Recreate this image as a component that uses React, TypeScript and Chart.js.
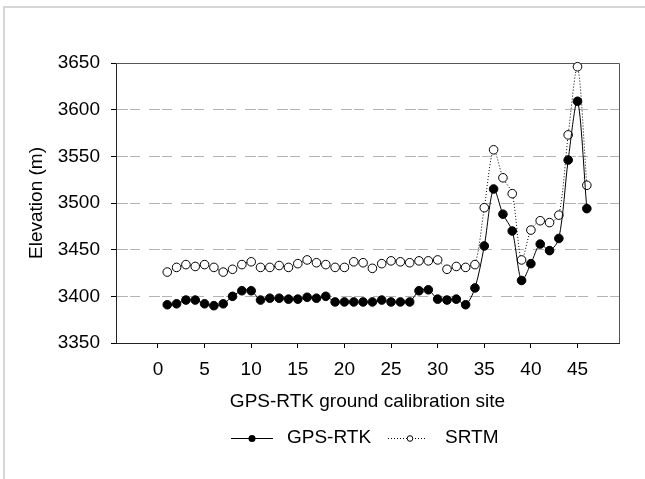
import React, { useEffect, useRef } from "react";
import { Chart, registerables } from "chart.js";

Chart.register(...registerables);

// Calibration site numbers along the transect
const sites = [
  1, 2, 3, 4, 5, 6, 7, 8, 9, 10, 11, 12, 13, 14, 15, 16, 17, 18, 19, 20, 21, 22, 23,
  24, 25, 26, 27, 28, 29, 30, 31, 32, 33, 34, 35, 36, 37, 38, 39, 40, 41, 42, 43, 44,
  45, 46,
];

// Elevation measured by GPS-RTK (m)
const gpsRtk = [
  3391, 3392, 3396, 3396, 3392, 3390, 3392, 3400, 3406, 3406, 3396, 3398, 3398, 3397,
  3397, 3399, 3398, 3400, 3394, 3394, 3394, 3394, 3394, 3396, 3394, 3394, 3394, 3406,
  3407, 3397, 3396, 3397, 3391, 3409, 3454, 3515, 3488, 3470, 3417, 3435, 3456, 3449,
  3462, 3546, 3609, 3494,
];

// Elevation from the SRTM DEM at the same sites (m)
const srtm = [
  3426, 3431, 3434, 3432, 3434, 3431, 3426, 3429, 3434, 3437, 3431, 3431, 3433, 3431,
  3435, 3439, 3436, 3434, 3431, 3431, 3437, 3436, 3430, 3435, 3438, 3437, 3436, 3438,
  3438, 3439, 3429, 3432, 3431, 3434, 3495, 3557, 3527, 3510, 3439, 3471, 3481, 3479,
  3487, 3573, 3646, 3519,
];

const xTicks = [0, 5, 10, 15, 20, 25, 30, 35, 40, 45];
const yTicks = [3350, 3400, 3450, 3500, 3550, 3600, 3650];

const xTitle = "GPS-RTK ground calibration site";
const yTitle = "Elevation (m)";
const seriesNames = ["GPS-RTK", "SRTM"];

const FONT = "Liberation Sans, Arial, sans-serif";
const FONT_SIZE = 19;
const W = 645;
const H = 479;

const decorations = {
  id: "decorations",
  beforeDraw(chart: any) {
    const ctx = chart.ctx;
    ctx.save();
    ctx.fillStyle = "#ffffff";
    ctx.fillRect(0, 0, W, H);
    // light outer frame (left and top edges)
    ctx.fillStyle = "#d6d6d6";
    ctx.fillRect(3, 6, 2, H - 6);
    ctx.fillRect(3, 6, W - 3, 2);
    ctx.restore();
  },
  beforeDatasetsDraw(chart: any) {
    const { ctx, chartArea } = chart;
    ctx.save();
    ctx.lineWidth = 1;
    ctx.strokeStyle = "#555555";
    ctx.beginPath();
    ctx.moveTo(chartArea.left, chartArea.top + 0.5);
    ctx.lineTo(chartArea.right + 0.5, chartArea.top + 0.5);
    ctx.lineTo(chartArea.right + 0.5, chartArea.bottom);
    ctx.stroke();
    ctx.restore();
  },
  afterDraw(chart: any) {
    const { ctx, chartArea } = chart;
    ctx.save();
    ctx.fillStyle = "#000000";
    ctx.font = `${FONT_SIZE}px ${FONT}`;
    ctx.textBaseline = "middle";

    // axis titles
    ctx.textAlign = "center";
    ctx.fillText(xTitle, (chartArea.left + chartArea.right) / 2, 402);
    ctx.save();
    ctx.translate(37, (chartArea.top + chartArea.bottom) / 2);
    ctx.rotate(-Math.PI / 2);
    ctx.fillText(yTitle, 0, 0);
    ctx.restore();

    // legend
    const ly = 438;
    ctx.textAlign = "left";
    ctx.strokeStyle = "#000000";
    ctx.lineWidth = 1;
    ctx.beginPath();
    ctx.moveTo(231, ly + 0.5);
    ctx.lineTo(273, ly + 0.5);
    ctx.stroke();
    ctx.beginPath();
    ctx.arc(252, ly + 0.5, 3.5, 0, Math.PI * 2);
    ctx.fill();
    ctx.fillText(seriesNames[0], 287, ly);

    ctx.setLineDash([1, 2]);
    ctx.beginPath();
    ctx.moveTo(388, ly + 0.5);
    ctx.lineTo(427, ly + 0.5);
    ctx.stroke();
    ctx.setLineDash([]);
    ctx.beginPath();
    ctx.arc(410, ly + 0.5, 2.8, 0, Math.PI * 2);
    ctx.fillStyle = "#ffffff";
    ctx.fill();
    ctx.stroke();
    ctx.fillStyle = "#000000";
    ctx.fillText(seriesNames[1], 445, ly);
    ctx.restore();
  },
};

export default function App() {
  const canvasRef = useRef<HTMLCanvasElement | null>(null);

  useEffect(() => {
    const canvas = canvasRef.current;
    if (!canvas) return;
    const chart = new Chart(canvas, {
      type: "line",
      data: {
        datasets: [
          {
            label: seriesNames[0],
            data: sites.map((s, i) => ({ x: s, y: gpsRtk[i] })),
            borderColor: "#000000",
            borderWidth: 1,
            backgroundColor: "#000000",
            pointBackgroundColor: "#000000",
            pointBorderColor: "#000000",
            pointBorderWidth: 1,
            pointRadius: 4.3,
            tension: 0.3,
            clip: false,
          } as any,
          {
            label: seriesNames[1],
            data: sites.map((s, i) => ({ x: s, y: srtm[i] })),
            borderColor: "#000000",
            borderWidth: 1,
            borderDash: [1, 2],
            backgroundColor: "#ffffff",
            pointBackgroundColor: "#ffffff",
            pointBorderColor: "#000000",
            pointBorderWidth: 1,
            pointRadius: 4.3,
            tension: 0.3,
            clip: false,
          } as any,
        ],
      },
      options: {
        responsive: false,
        animation: false,
        devicePixelRatio: 1,
        layout: { padding: { left: 0, top: 63, right: 26, bottom: 0 } },
        plugins: {
          legend: { display: false },
          tooltip: { enabled: false },
        },
        scales: {
          x: {
            type: "linear",
            min: -4.5,
            max: 49.45,
            afterBuildTicks: (scale: any) => {
              scale.ticks = xTicks.map((v) => ({ value: v }));
            },
            afterFit: (scale: any) => {
              scale.height = H - 343;
            },
            grid: {
              drawOnChartArea: false,
              drawTicks: true,
              tickLength: 5,
              tickColor: "#000000",
              color: "#000000",
            },
            border: { display: true, color: "#222222", width: 1 },
            ticks: {
              color: "#000000",
              font: { family: FONT, size: FONT_SIZE },
              padding: 10,
              maxRotation: 0,
              autoSkip: false,
              callback: (v: any) => String(v),
            },
          },
          y: {
            type: "linear",
            min: 3350,
            max: 3650,
            afterBuildTicks: (scale: any) => {
              scale.ticks = yTicks.map((v) => ({ value: v }));
            },
            afterFit: (scale: any) => {
              scale.width = 116;
            },
            grid: {
              color: (c: any) =>
                c.tick && (c.tick.value === 3350 || c.tick.value === 3650)
                  ? "rgba(0,0,0,0)"
                  : "#b4b4b4",
              lineWidth: 1,
              drawTicks: true,
              tickLength: 5,
              tickColor: "#000000",
            },
            border: { display: true, color: "#222222", width: 1, dash: [11, 2, 10, 9] },
            ticks: {
              color: "#000000",
              font: { family: FONT, size: FONT_SIZE },
              padding: 11,
              autoSkip: false,
              callback: (v: any) => String(v),
            },
          },
        },
      },
      plugins: [decorations],
    });
    return () => chart.destroy();
  }, []);

  return (
    <div style={{ position: "absolute", left: 0, top: 0, width: W, height: H }}>
      <canvas ref={canvasRef} width={W} height={H} />
    </div>
  );
}
